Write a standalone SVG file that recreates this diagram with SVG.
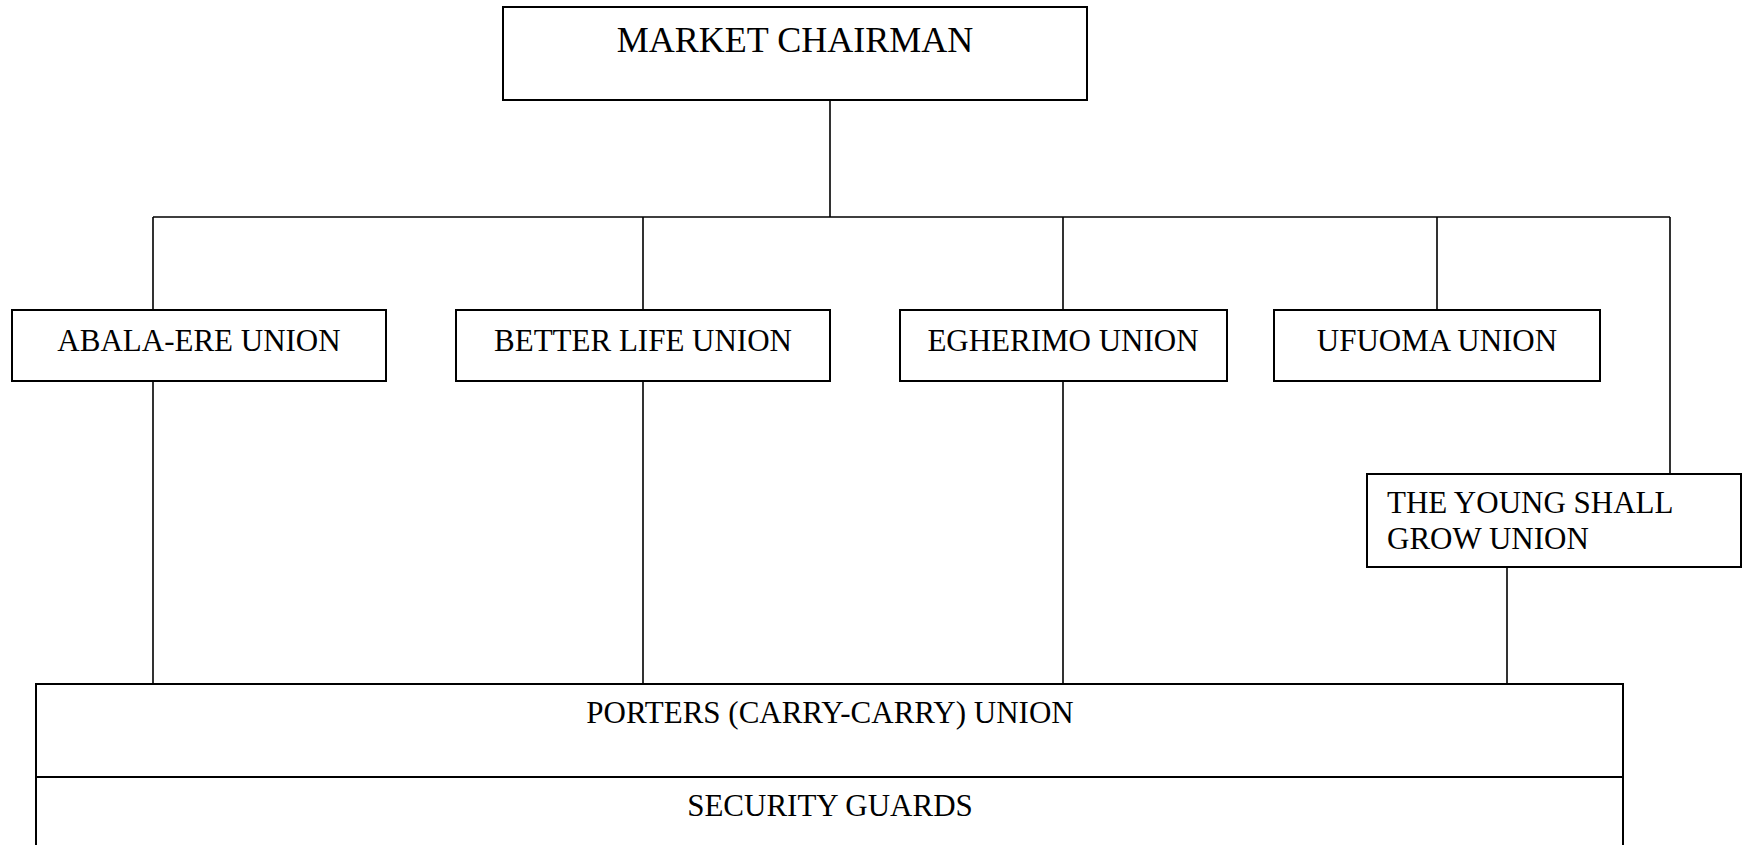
<svg xmlns="http://www.w3.org/2000/svg" width="1748" height="845" viewBox="0 0 1748 845">
<style>
.box{fill:#fff;stroke:#000;stroke-width:2}
.ln{fill:none;stroke:#000;stroke-width:1.6}
text{font-family:"Liberation Serif","Times New Roman",serif;font-size:31px;fill:#000}
.c{text-anchor:middle}
</style>
<rect width="1748" height="845" fill="#fff"/>
<g id="connectors">
<path class="ln" d="M830 100V217M153 217H1670M153 217V310M643 217V310M1063 217V310M1437 217V310M1670 217V474"/>
<path class="ln" d="M153 381V683M643 381V683M1063 381V683M1507 567V683"/>
</g>
<g id="chairman">
<rect class="box" x="503" y="7" width="584" height="93"/>
<text class="c" x="795" y="52" style="font-size:36px">MARKET CHAIRMAN</text>
</g>
<g id="abala">
<rect class="box" x="12" y="310" width="374" height="71"/>
<text class="c" x="199" y="351">ABALA-ERE UNION</text>
</g>
<g id="betterlife">
<rect class="box" x="456" y="310" width="374" height="71"/>
<text class="c" x="643" y="351">BETTER LIFE UNION</text>
</g>
<g id="egherimo">
<rect class="box" x="900" y="310" width="327" height="71"/>
<text class="c" x="1063" y="351">EGHERIMO UNION</text>
</g>
<g id="ufuoma">
<rect class="box" x="1274" y="310" width="326" height="71"/>
<text class="c" x="1437" y="351">UFUOMA UNION</text>
</g>
<g id="young">
<rect class="box" x="1367" y="474" width="374" height="93"/>
<text x="1387" y="513">THE YOUNG SHALL</text>
<text x="1387" y="549">GROW UNION</text>
</g>
<g id="porters">
<rect class="box" x="36" y="684" width="1587" height="93"/>
<text class="c" x="830" y="723">PORTERS (CARRY-CARRY) UNION</text>
</g>
<g id="security">
<rect class="box" x="36" y="777" width="1587" height="80"/>
<text class="c" x="830" y="816">SECURITY GUARDS</text>
</g>
</svg>
